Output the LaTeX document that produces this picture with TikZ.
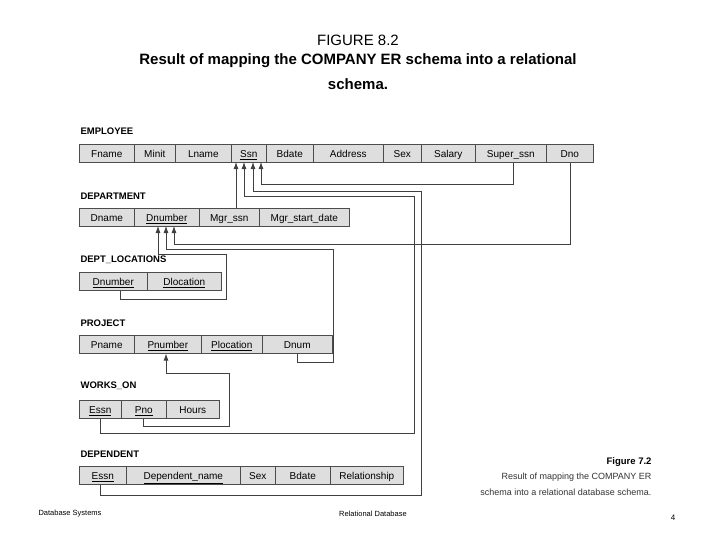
\documentclass[tikz,border=0pt]{standalone}
\usepackage{fontspec}
\setmainfont{Liberation Sans}
\usetikzlibrary{arrows.meta}
\tikzset{
  cell/.style={draw=black!70, fill=black!13, line width=0.6pt, anchor=north west, minimum height=18pt, inner sep=0pt, text height=9pt, text depth=1pt, font=\fontsize{10}{11}\selectfont},
  rel/.style={anchor=west, font=\bfseries\fontsize{9.5}{10}\selectfont},
  fk/.style={line width=0.8pt, black!75, -{Latex[length=7pt,width=5pt]}},
}
\begin{document}
\begin{tikzpicture}[x=1pt,y=-1pt]
\useasboundingbox (0,0) rectangle (717,538);
% title
\node[font=\fontsize{15}{17}\selectfont] (t1) at (358,40) {FIGURE 8.2};
\node[font=\bfseries\fontsize{15}{17}\selectfont] (t2) at (358,61) {Result of mapping the COMPANY ER schema into a relational};
\node[font=\bfseries\fontsize{15}{17}\selectfont] (t3) at (358,84) {schema.};

% EMPLOYEE
\node[rel] (emp) at (77,131) {EMPLOYEE};
\node[cell, minimum width=55pt] (fname) at (79,144) {Fname};
\node[cell, minimum width=41pt] (minit) at (134,144) {Minit};
\node[cell, minimum width=56pt] (lname) at (175,144) {Lname};
\node[cell, minimum width=35pt] (ssn) at (231,144) {\underline{Ssn}};
\node[cell, minimum width=47pt] (bdate) at (266,144) {Bdate};
\node[cell, minimum width=70pt] (address) at (313,144) {Address};
\node[cell, minimum width=38pt] (sex) at (383,144) {Sex};
\node[cell, minimum width=54pt] (salary) at (421,144) {Salary};
\node[cell, minimum width=71pt] (superssn) at (475,144) {Super\_ssn};
\node[cell, minimum width=47pt] (dno) at (546,144) {Dno};

% DEPARTMENT
\node[rel] (dept) at (77,196) {DEPARTMENT};
\node[cell, minimum width=55pt] (dname) at (79,208) {Dname};
\node[cell, minimum width=65pt] (dnumber) at (134,208) {\underline{Dnumber}};
\node[cell, minimum width=60pt] (mgrssn) at (199,208) {Mgr\_ssn};
\node[cell, minimum width=90pt] (mgrstart) at (259,208) {Mgr\_start\_date};

% DEPT_LOCATIONS
\node[rel] (dloc) at (77,260) {DEPT\_LOCATIONS};
\node[cell, minimum width=68pt] (ldnumber) at (79,272) {\underline{Dnumber}};
\node[cell, minimum width=74pt] (dlocation) at (147,272) {\underline{Dlocation}};

% PROJECT
\node[rel] (proj) at (77,323) {PROJECT};
\node[cell, minimum width=55pt] (pname) at (79,335) {Pname};
\node[cell, minimum width=67pt] (pnumber) at (134,335) {\underline{Pnumber}};
\node[cell, minimum width=61pt] (plocation) at (201,335) {\underline{Plocation}};
\node[cell, minimum width=70pt] (dnum) at (262,335) {Dnum};

% WORKS_ON
\node[rel] (works) at (77,386) {WORKS\_ON};
\node[cell, minimum width=42pt] (wessn) at (79,400) {\underline{Essn}};
\node[cell, minimum width=45pt] (pno) at (121,400) {\underline{Pno}};
\node[cell, minimum width=53pt] (hours) at (166,400) {Hours};

% DEPENDENT
\node[rel] (dep) at (77,454) {DEPENDENT};
\node[cell, minimum width=47pt] (dessn) at (79,466) {\underline{Essn}};
\node[cell, minimum width=114pt] (depname) at (126,466) {\underline{Dependent\_name}};
\node[cell, minimum width=35pt] (dsex) at (240,466) {Sex};
\node[cell, minimum width=55pt] (dbdate) at (275,466) {Bdate};
\node[cell, minimum width=73pt] (relship) at (330,466) {Relationship};

% arrow tips
\coordinate (s1) at (236,162);
\coordinate (s2) at (244,162);
\coordinate (s3) at (253,162);
\coordinate (s4) at (261,162);
\coordinate (d1) at (158,226);
\coordinate (d2) at (166,226);
\coordinate (d3) at (174,226);

% foreign keys
\draw[fk] (superssn.south -| 513,0) -- (513,184) -| (s4);
\draw[fk] (dessn.south -| 100,0) -- (100,495) -| (421,191) -| (s3);
\draw[fk] (wessn.south -| 100,0) -- (100,433) -| (414,196) -| (s2);
\draw[fk] (mgrssn.north -| s1) -- (s1);
\draw[fk] (dno.south -| 570,0) -- (570,244) -| (d3);
\draw[fk] (dnum.south -| 297,0) -- (297,362) -| (333,249) -| (d2);
\draw[fk] (ldnumber.south -| 120,0) -- (120,299) -| (226,254) -| (d1);
\draw[fk] (pno.south -| 143,0) -- (143,426) -| (229,373) -| (pnumber.south -| 166,0);

% caption
\node[anchor=east, font=\bfseries\fontsize{9.5}{10}\selectfont] (fig) at (655,462) {Figure 7.2};
\node[anchor=east, font=\fontsize{9}{10}\selectfont, black!80] (cap1) at (655,477) {Result of mapping the COMPANY ER};
\node[anchor=east, font=\fontsize{9}{10}\selectfont, black!80] (cap2) at (655,492) {schema into a relational database schema.};

% footer
\node[anchor=west, font=\fontsize{7.5}{9}\selectfont] (f1) at (35,514) {Database Systems};
\node[font=\fontsize{7.5}{9}\selectfont] (f2) at (373,514) {Relational Database};
\node[font=\fontsize{8}{9}\selectfont] (f3) at (673,518) {4};
\end{tikzpicture}
\end{document}
